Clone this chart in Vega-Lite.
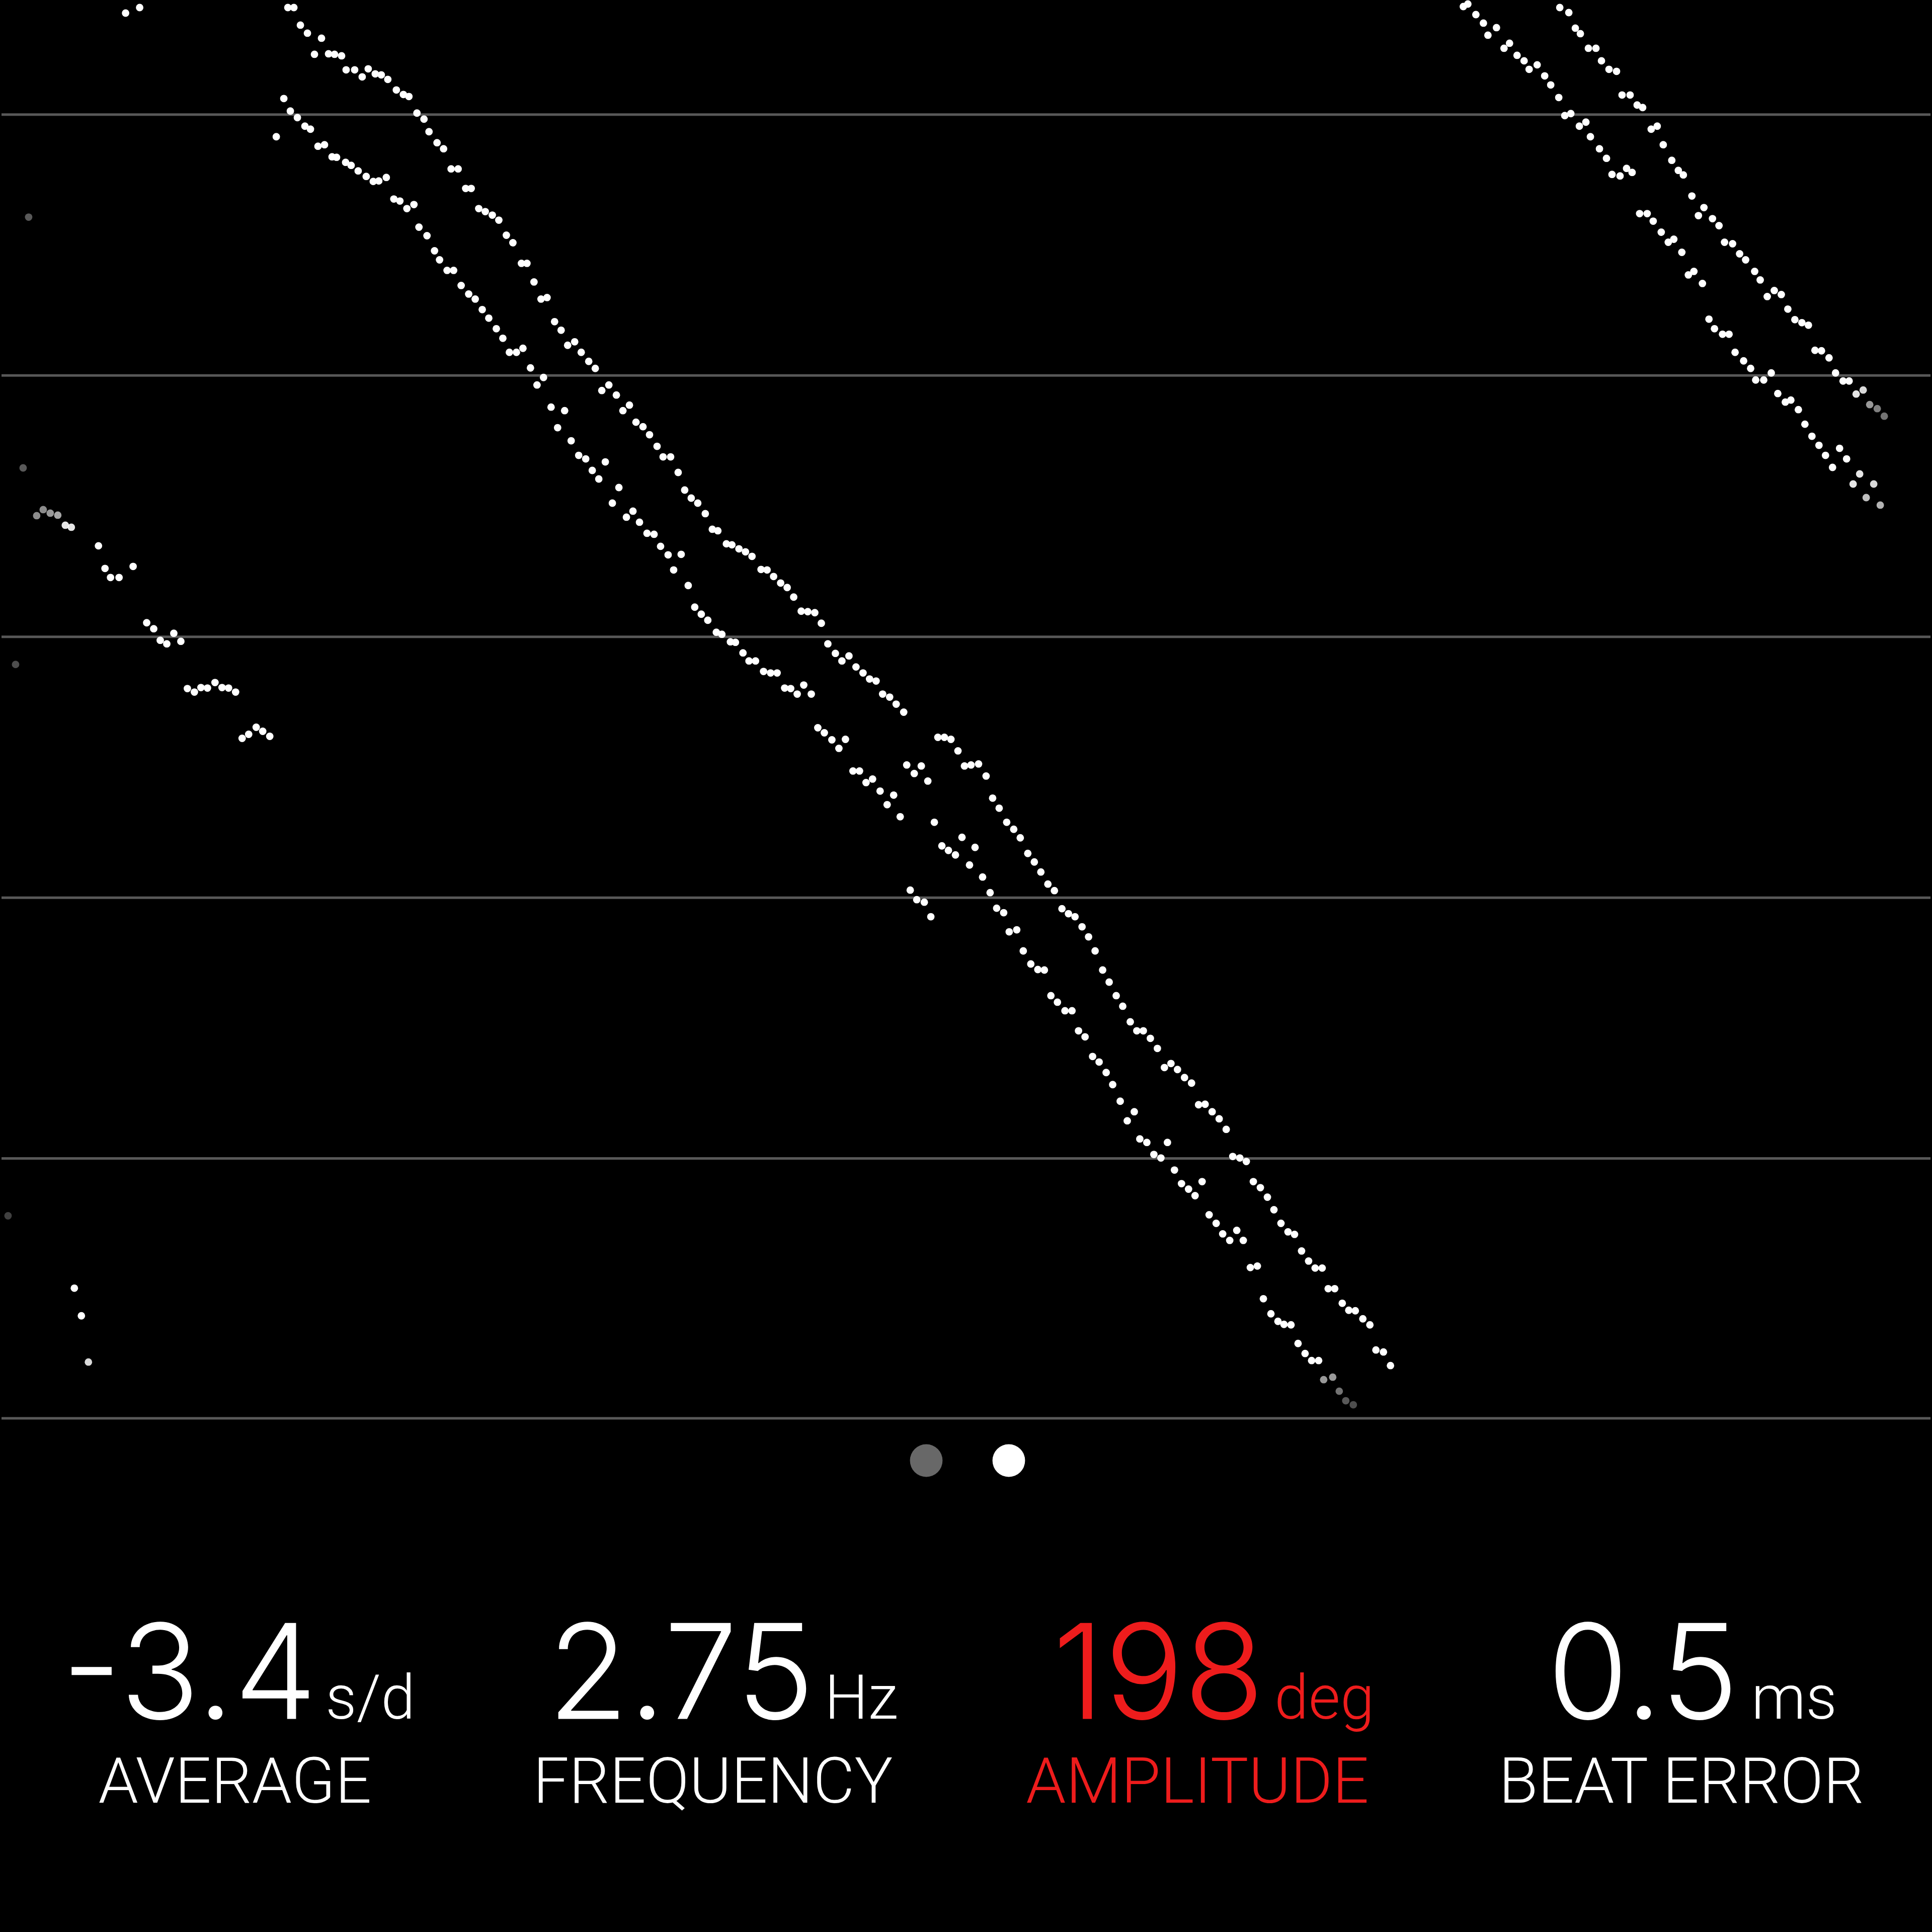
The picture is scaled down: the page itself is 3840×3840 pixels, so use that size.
{
  "$schema": "https://vega.github.io/schema/vega-lite/v6.json",
  "width": 3840,
  "height": 3840,
  "autosize": {"type": "fit", "contains": "padding"},
  "padding": 0,
  "background": "#000000",
  "config": {"view": {"stroke": null}},
  "resolve": {"scale": {"x": "independent"}},
  "datasets": {
    "grid": [{"y": 224}, {"y": 743}, {"y": 1263}, {"y": 1782}, {"y": 2301}, {"y": 2818}],
    "pages": [{"page": 1, "state": "inactive"}, {"page": 2, "state": "active"}],
    "metrics": [
      {"col": 1, "value": "-3.4", "unit": "s/d", "metric": "AVERAGE", "status": "normal"},
      {"col": 2, "value": "2.75", "unit": "Hz", "metric": "FREQUENCY", "status": "normal"},
      {"col": 3, "value": "198", "unit": "deg", "metric": "AMPLITUDE", "status": "alert"},
      {"col": 4, "value": "0.5", "unit": "ms", "metric": "BEAT ERROR", "status": "normal"}
    ],
    "beats": [
      {"x": 247, "y": 22, "signal": 1}, {"x": 275, "y": 11, "signal": 1},
      {"x": 54, "y": 428, "signal": 0.35}, {"x": 43, "y": 927, "signal": 0.35}, {"x": 28, "y": 1318, "signal": 0.3}, {"x": 13, "y": 2415, "signal": 0.25},
      {"x": 70, "y": 1022, "signal": 0.55}, {"x": 83, "y": 1010, "signal": 0.55}, {"x": 97, "y": 1017, "signal": 0.6}, {"x": 112, "y": 1021, "signal": 0.65},
      {"x": 127, "y": 1041, "signal": 0.9}, {"x": 139, "y": 1045, "signal": 0.9}, {"x": 193, "y": 1082, "signal": 1}, {"x": 206, "y": 1127, "signal": 1},
      {"x": 217, "y": 1145, "signal": 1}, {"x": 234, "y": 1145, "signal": 1}, {"x": 262, "y": 1123, "signal": 1}, {"x": 289, "y": 1235, "signal": 1},
      {"x": 303, "y": 1247, "signal": 1}, {"x": 316, "y": 1270, "signal": 1}, {"x": 329, "y": 1277, "signal": 1}, {"x": 343, "y": 1256, "signal": 1},
      {"x": 357, "y": 1272, "signal": 1}, {"x": 370, "y": 1366, "signal": 1}, {"x": 384, "y": 1373, "signal": 1}, {"x": 397, "y": 1364, "signal": 1},
      {"x": 410, "y": 1365, "signal": 1}, {"x": 425, "y": 1354, "signal": 1}, {"x": 439, "y": 1364, "signal": 1}, {"x": 452, "y": 1365, "signal": 1},
      {"x": 466, "y": 1373, "signal": 1}, {"x": 479, "y": 1465, "signal": 1}, {"x": 492, "y": 1457, "signal": 1}, {"x": 507, "y": 1443, "signal": 1},
      {"x": 520, "y": 1451, "signal": 1}, {"x": 534, "y": 1461, "signal": 1},
      {"x": 145, "y": 2559, "signal": 1}, {"x": 159, "y": 2614, "signal": 1}, {"x": 173, "y": 2706, "signal": 0.85},

      {"x": 562, "y": 192, "signal": 1}, {"x": 547, "y": 268, "signal": 1}, {"x": 575, "y": 217, "signal": 1}, {"x": 589, "y": 230, "signal": 1},
      {"x": 604, "y": 247, "signal": 1}, {"x": 615, "y": 253, "signal": 1}, {"x": 630, "y": 287, "signal": 1}, {"x": 643, "y": 284, "signal": 1},
      {"x": 658, "y": 308, "signal": 1}, {"x": 667, "y": 309, "signal": 1}, {"x": 685, "y": 319, "signal": 1}, {"x": 696, "y": 325, "signal": 1},
      {"x": 710, "y": 336, "signal": 1}, {"x": 726, "y": 347, "signal": 1}, {"x": 740, "y": 357, "signal": 1}, {"x": 751, "y": 356, "signal": 1},
      {"x": 766, "y": 349, "signal": 1}, {"x": 781, "y": 392, "signal": 1}, {"x": 793, "y": 396, "signal": 1}, {"x": 807, "y": 411, "signal": 1},
      {"x": 821, "y": 403, "signal": 1}, {"x": 831, "y": 448, "signal": 1}, {"x": 847, "y": 465, "signal": 1}, {"x": 862, "y": 495, "signal": 1},
      {"x": 872, "y": 513, "signal": 1}, {"x": 887, "y": 534, "signal": 1}, {"x": 900, "y": 534, "signal": 1}, {"x": 915, "y": 564, "signal": 1},
      {"x": 930, "y": 581, "signal": 1}, {"x": 943, "y": 591, "signal": 1}, {"x": 957, "y": 612, "signal": 1}, {"x": 970, "y": 629, "signal": 1},
      {"x": 985, "y": 650, "signal": 1}, {"x": 998, "y": 669, "signal": 1}, {"x": 1011, "y": 697, "signal": 1}, {"x": 1025, "y": 697, "signal": 1},
      {"x": 1038, "y": 689, "signal": 1}, {"x": 1053, "y": 728, "signal": 1}, {"x": 1066, "y": 762, "signal": 1}, {"x": 1079, "y": 747, "signal": 1},
      {"x": 1094, "y": 806, "signal": 1}, {"x": 1121, "y": 813, "signal": 1}, {"x": 1107, "y": 847, "signal": 1}, {"x": 1134, "y": 873, "signal": 1},
      {"x": 1149, "y": 902, "signal": 1}, {"x": 1163, "y": 909, "signal": 1}, {"x": 1202, "y": 915, "signal": 1}, {"x": 1176, "y": 932, "signal": 1},
      {"x": 1189, "y": 949, "signal": 1}, {"x": 1229, "y": 966, "signal": 1}, {"x": 1216, "y": 997, "signal": 1}, {"x": 1244, "y": 1025, "signal": 1},
      {"x": 1257, "y": 1013, "signal": 1}, {"x": 1270, "y": 1035, "signal": 1}, {"x": 1285, "y": 1057, "signal": 1}, {"x": 1299, "y": 1059, "signal": 1},
      {"x": 1312, "y": 1083, "signal": 1}, {"x": 1327, "y": 1100, "signal": 1}, {"x": 1353, "y": 1099, "signal": 1}, {"x": 1338, "y": 1130, "signal": 1},
      {"x": 1367, "y": 1161, "signal": 1}, {"x": 1380, "y": 1204, "signal": 1}, {"x": 1393, "y": 1218, "signal": 1}, {"x": 1406, "y": 1230, "signal": 1},
      {"x": 1423, "y": 1254, "signal": 1}, {"x": 1434, "y": 1258, "signal": 1}, {"x": 1451, "y": 1273, "signal": 1}, {"x": 1461, "y": 1274, "signal": 1},
      {"x": 1476, "y": 1295, "signal": 1}, {"x": 1488, "y": 1311, "signal": 1}, {"x": 1501, "y": 1311, "signal": 1}, {"x": 1517, "y": 1332, "signal": 1},
      {"x": 1531, "y": 1335, "signal": 1}, {"x": 1544, "y": 1335, "signal": 1}, {"x": 1559, "y": 1365, "signal": 1}, {"x": 1571, "y": 1366, "signal": 1},
      {"x": 1584, "y": 1377, "signal": 1}, {"x": 1597, "y": 1359, "signal": 1}, {"x": 1612, "y": 1377, "signal": 1}, {"x": 1625, "y": 1444, "signal": 1},
      {"x": 1638, "y": 1454, "signal": 1}, {"x": 1653, "y": 1468, "signal": 1}, {"x": 1667, "y": 1485, "signal": 1}, {"x": 1680, "y": 1467, "signal": 1},
      {"x": 1695, "y": 1530, "signal": 1}, {"x": 1708, "y": 1530, "signal": 1}, {"x": 1721, "y": 1553, "signal": 1}, {"x": 1734, "y": 1546, "signal": 1},
      {"x": 1749, "y": 1570, "signal": 1}, {"x": 1776, "y": 1578, "signal": 1}, {"x": 1763, "y": 1597, "signal": 1}, {"x": 1789, "y": 1621, "signal": 1},
      {"x": 1802, "y": 1518, "signal": 1}, {"x": 1817, "y": 1535, "signal": 1}, {"x": 1831, "y": 1520, "signal": 1}, {"x": 1844, "y": 1550, "signal": 1},
      {"x": 1857, "y": 1632, "signal": 1}, {"x": 1872, "y": 1679, "signal": 1}, {"x": 1885, "y": 1688, "signal": 1}, {"x": 1899, "y": 1697, "signal": 1},
      {"x": 1912, "y": 1662, "signal": 1}, {"x": 1938, "y": 1682, "signal": 1}, {"x": 1927, "y": 1717, "signal": 1}, {"x": 1953, "y": 1741, "signal": 1},
      {"x": 1968, "y": 1772, "signal": 1}, {"x": 1981, "y": 1803, "signal": 1}, {"x": 1995, "y": 1812, "signal": 1}, {"x": 2006, "y": 1850, "signal": 1},
      {"x": 2021, "y": 1846, "signal": 1}, {"x": 2034, "y": 1888, "signal": 1}, {"x": 2049, "y": 1914, "signal": 1}, {"x": 2063, "y": 1925, "signal": 1},
      {"x": 2076, "y": 1926, "signal": 1}, {"x": 2089, "y": 1977, "signal": 1}, {"x": 2102, "y": 1990, "signal": 1}, {"x": 2117, "y": 2007, "signal": 1},
      {"x": 2131, "y": 2007, "signal": 1}, {"x": 2144, "y": 2047, "signal": 1}, {"x": 2157, "y": 2059, "signal": 1}, {"x": 2172, "y": 2098, "signal": 1},
      {"x": 2185, "y": 2109, "signal": 1}, {"x": 2199, "y": 2130, "signal": 1}, {"x": 2212, "y": 2154, "signal": 1}, {"x": 2227, "y": 2187, "signal": 1},
      {"x": 1809, "y": 1767, "signal": 1}, {"x": 1822, "y": 1786, "signal": 1}, {"x": 1837, "y": 1791, "signal": 1}, {"x": 1850, "y": 1820, "signal": 1},
      {"x": 2241, "y": 2226, "signal": 1}, {"x": 2255, "y": 2208, "signal": 1}, {"x": 2266, "y": 2262, "signal": 1}, {"x": 2280, "y": 2269, "signal": 1},
      {"x": 2321, "y": 2269, "signal": 1}, {"x": 2294, "y": 2293, "signal": 1}, {"x": 2308, "y": 2300, "signal": 1}, {"x": 2335, "y": 2324, "signal": 1},
      {"x": 2349, "y": 2351, "signal": 1}, {"x": 2363, "y": 2362, "signal": 1}, {"x": 2376, "y": 2375, "signal": 1}, {"x": 2390, "y": 2347, "signal": 1},
      {"x": 2404, "y": 2413, "signal": 1}, {"x": 2418, "y": 2430, "signal": 1}, {"x": 2431, "y": 2451, "signal": 1}, {"x": 2445, "y": 2464, "signal": 1},
      {"x": 2459, "y": 2444, "signal": 1}, {"x": 2472, "y": 2464, "signal": 1}, {"x": 2486, "y": 2518, "signal": 1}, {"x": 2500, "y": 2515, "signal": 1},
      {"x": 2512, "y": 2580, "signal": 1}, {"x": 2527, "y": 2610, "signal": 1}, {"x": 2541, "y": 2625, "signal": 1}, {"x": 2553, "y": 2631, "signal": 1},
      {"x": 2567, "y": 2632, "signal": 1}, {"x": 2581, "y": 2669, "signal": 1}, {"x": 2595, "y": 2689, "signal": 1}, {"x": 2608, "y": 2703, "signal": 1},
      {"x": 2622, "y": 2703, "signal": 1}, {"x": 2632, "y": 2741, "signal": 0.6}, {"x": 2650, "y": 2736, "signal": 0.6}, {"x": 2663, "y": 2764, "signal": 0.45},
      {"x": 2676, "y": 2783, "signal": 0.35}, {"x": 2691, "y": 2791, "signal": 0.3},

      {"x": 570, "y": 11, "signal": 1}, {"x": 582, "y": 11, "signal": 1}, {"x": 595, "y": 46, "signal": 1}, {"x": 609, "y": 62, "signal": 1},
      {"x": 637, "y": 72, "signal": 1}, {"x": 623, "y": 104, "signal": 1}, {"x": 651, "y": 103, "signal": 1}, {"x": 663, "y": 104, "signal": 1},
      {"x": 677, "y": 107, "signal": 1}, {"x": 686, "y": 135, "signal": 1}, {"x": 703, "y": 135, "signal": 1}, {"x": 718, "y": 149, "signal": 1},
      {"x": 730, "y": 133, "signal": 1}, {"x": 744, "y": 143, "signal": 1}, {"x": 756, "y": 145, "signal": 1}, {"x": 769, "y": 154, "signal": 1},
      {"x": 786, "y": 175, "signal": 1}, {"x": 800, "y": 184, "signal": 1}, {"x": 811, "y": 188, "signal": 1}, {"x": 827, "y": 221, "signal": 1},
      {"x": 841, "y": 233, "signal": 1}, {"x": 851, "y": 258, "signal": 1}, {"x": 867, "y": 280, "signal": 1}, {"x": 880, "y": 292, "signal": 1},
      {"x": 895, "y": 332, "signal": 1}, {"x": 909, "y": 332, "signal": 1}, {"x": 924, "y": 371, "signal": 1}, {"x": 935, "y": 371, "signal": 1},
      {"x": 950, "y": 411, "signal": 1}, {"x": 963, "y": 417, "signal": 1}, {"x": 977, "y": 424, "signal": 1}, {"x": 990, "y": 434, "signal": 1},
      {"x": 1005, "y": 464, "signal": 1}, {"x": 1018, "y": 479, "signal": 1}, {"x": 1035, "y": 520, "signal": 1}, {"x": 1046, "y": 520, "signal": 1},
      {"x": 1060, "y": 557, "signal": 1}, {"x": 1074, "y": 591, "signal": 1}, {"x": 1086, "y": 588, "signal": 1}, {"x": 1101, "y": 636, "signal": 1},
      {"x": 1114, "y": 653, "signal": 1}, {"x": 1127, "y": 683, "signal": 1}, {"x": 1141, "y": 676, "signal": 1}, {"x": 1154, "y": 697, "signal": 1},
      {"x": 1169, "y": 715, "signal": 1}, {"x": 1182, "y": 729, "signal": 1}, {"x": 1195, "y": 773, "signal": 1}, {"x": 1209, "y": 762, "signal": 1},
      {"x": 1224, "y": 782, "signal": 1}, {"x": 1237, "y": 813, "signal": 1}, {"x": 1250, "y": 802, "signal": 1}, {"x": 1263, "y": 836, "signal": 1},
      {"x": 1277, "y": 845, "signal": 1}, {"x": 1290, "y": 861, "signal": 1}, {"x": 1305, "y": 884, "signal": 1}, {"x": 1317, "y": 905, "signal": 1},
      {"x": 1332, "y": 905, "signal": 1}, {"x": 1347, "y": 936, "signal": 1}, {"x": 1360, "y": 971, "signal": 1}, {"x": 1373, "y": 987, "signal": 1},
      {"x": 1386, "y": 997, "signal": 1}, {"x": 1401, "y": 1018, "signal": 1}, {"x": 1415, "y": 1049, "signal": 1}, {"x": 1426, "y": 1052, "signal": 1},
      {"x": 1443, "y": 1078, "signal": 1}, {"x": 1454, "y": 1080, "signal": 1}, {"x": 1468, "y": 1088, "signal": 1}, {"x": 1481, "y": 1094, "signal": 1},
      {"x": 1494, "y": 1103, "signal": 1}, {"x": 1512, "y": 1129, "signal": 1}, {"x": 1524, "y": 1130, "signal": 1}, {"x": 1537, "y": 1143, "signal": 1},
      {"x": 1551, "y": 1156, "signal": 1}, {"x": 1564, "y": 1165, "signal": 1}, {"x": 1577, "y": 1184, "signal": 1}, {"x": 1592, "y": 1212, "signal": 1},
      {"x": 1605, "y": 1213, "signal": 1}, {"x": 1619, "y": 1215, "signal": 1}, {"x": 1632, "y": 1236, "signal": 1}, {"x": 1645, "y": 1277, "signal": 1},
      {"x": 1660, "y": 1296, "signal": 1}, {"x": 1673, "y": 1311, "signal": 1}, {"x": 1687, "y": 1301, "signal": 1}, {"x": 1701, "y": 1323, "signal": 1},
      {"x": 1715, "y": 1335, "signal": 1}, {"x": 1728, "y": 1347, "signal": 1}, {"x": 1741, "y": 1351, "signal": 1}, {"x": 1754, "y": 1377, "signal": 1},
      {"x": 1768, "y": 1383, "signal": 1}, {"x": 1781, "y": 1397, "signal": 1}, {"x": 1796, "y": 1413, "signal": 1}, {"x": 1864, "y": 1463, "signal": 1},
      {"x": 1877, "y": 1463, "signal": 1}, {"x": 1890, "y": 1467, "signal": 1}, {"x": 1904, "y": 1490, "signal": 1}, {"x": 1917, "y": 1520, "signal": 1},
      {"x": 1930, "y": 1518, "signal": 1}, {"x": 1945, "y": 1516, "signal": 1}, {"x": 1960, "y": 1540, "signal": 1}, {"x": 1973, "y": 1584, "signal": 1},
      {"x": 1986, "y": 1604, "signal": 1}, {"x": 2001, "y": 1632, "signal": 1}, {"x": 2015, "y": 1646, "signal": 1}, {"x": 2028, "y": 1663, "signal": 1},
      {"x": 2043, "y": 1694, "signal": 1}, {"x": 2056, "y": 1711, "signal": 1}, {"x": 2069, "y": 1731, "signal": 1}, {"x": 2083, "y": 1755, "signal": 1},
      {"x": 2096, "y": 1768, "signal": 1}, {"x": 2111, "y": 1804, "signal": 1}, {"x": 2124, "y": 1814, "signal": 1}, {"x": 2137, "y": 1820, "signal": 1},
      {"x": 2151, "y": 1840, "signal": 1}, {"x": 2164, "y": 1860, "signal": 1}, {"x": 2177, "y": 1888, "signal": 1}, {"x": 2192, "y": 1926, "signal": 1},
      {"x": 2205, "y": 1950, "signal": 1}, {"x": 2219, "y": 1977, "signal": 1}, {"x": 2232, "y": 1998, "signal": 1}, {"x": 2247, "y": 2029, "signal": 1},
      {"x": 2260, "y": 2047, "signal": 1}, {"x": 2273, "y": 2047, "signal": 1}, {"x": 2287, "y": 2062, "signal": 1}, {"x": 2301, "y": 2082, "signal": 1},
      {"x": 2315, "y": 2120, "signal": 1}, {"x": 2328, "y": 2112, "signal": 1}, {"x": 2341, "y": 2124, "signal": 1}, {"x": 2355, "y": 2140, "signal": 1},
      {"x": 2369, "y": 2151, "signal": 1}, {"x": 2383, "y": 2194, "signal": 1}, {"x": 2396, "y": 2193, "signal": 1}, {"x": 2410, "y": 2208, "signal": 1},
      {"x": 2424, "y": 2222, "signal": 1}, {"x": 2438, "y": 2243, "signal": 1}, {"x": 2451, "y": 2297, "signal": 1}, {"x": 2465, "y": 2300, "signal": 1},
      {"x": 2478, "y": 2307, "signal": 1}, {"x": 2492, "y": 2347, "signal": 1}, {"x": 2506, "y": 2359, "signal": 1}, {"x": 2520, "y": 2378, "signal": 1},
      {"x": 2533, "y": 2403, "signal": 1}, {"x": 2547, "y": 2430, "signal": 1}, {"x": 2561, "y": 2447, "signal": 1}, {"x": 2574, "y": 2452, "signal": 1},
      {"x": 2588, "y": 2485, "signal": 1}, {"x": 2602, "y": 2505, "signal": 1}, {"x": 2615, "y": 2519, "signal": 1}, {"x": 2629, "y": 2519, "signal": 1},
      {"x": 2641, "y": 2560, "signal": 1}, {"x": 2654, "y": 2560, "signal": 1}, {"x": 2669, "y": 2589, "signal": 1}, {"x": 2682, "y": 2603, "signal": 1},
      {"x": 2695, "y": 2604, "signal": 1}, {"x": 2710, "y": 2620, "signal": 1}, {"x": 2724, "y": 2632, "signal": 1}, {"x": 2736, "y": 2682, "signal": 1},
      {"x": 2751, "y": 2686, "signal": 1}, {"x": 2765, "y": 2713, "signal": 1},

      {"x": 2910, "y": 9, "signal": 1}, {"x": 2919, "y": 4, "signal": 1}, {"x": 2935, "y": 25, "signal": 1}, {"x": 2950, "y": 42, "signal": 1},
      {"x": 2976, "y": 51, "signal": 1}, {"x": 2959, "y": 66, "signal": 1}, {"x": 2991, "y": 92, "signal": 1}, {"x": 3002, "y": 82, "signal": 1},
      {"x": 3017, "y": 106, "signal": 1}, {"x": 3031, "y": 117, "signal": 1}, {"x": 3057, "y": 125, "signal": 1}, {"x": 3041, "y": 134, "signal": 1},
      {"x": 3072, "y": 147, "signal": 1}, {"x": 3084, "y": 165, "signal": 1}, {"x": 3100, "y": 190, "signal": 1}, {"x": 3112, "y": 226, "signal": 1},
      {"x": 3124, "y": 222, "signal": 1}, {"x": 3141, "y": 247, "signal": 1}, {"x": 3154, "y": 239, "signal": 1}, {"x": 3163, "y": 268, "signal": 1},
      {"x": 3181, "y": 292, "signal": 1}, {"x": 3195, "y": 311, "signal": 1}, {"x": 3206, "y": 343, "signal": 1}, {"x": 3222, "y": 346, "signal": 1},
      {"x": 3235, "y": 331, "signal": 1}, {"x": 3246, "y": 339, "signal": 1}, {"x": 3261, "y": 421, "signal": 1}, {"x": 3276, "y": 421, "signal": 1},
      {"x": 3288, "y": 436, "signal": 1}, {"x": 3304, "y": 458, "signal": 1}, {"x": 3318, "y": 478, "signal": 1}, {"x": 3329, "y": 472, "signal": 1},
      {"x": 3345, "y": 498, "signal": 1}, {"x": 3358, "y": 543, "signal": 1}, {"x": 3369, "y": 536, "signal": 1}, {"x": 3386, "y": 560, "signal": 1},
      {"x": 3399, "y": 631, "signal": 1}, {"x": 3410, "y": 650, "signal": 1}, {"x": 3426, "y": 661, "signal": 1}, {"x": 3439, "y": 661, "signal": 1},
      {"x": 3451, "y": 697, "signal": 1}, {"x": 3468, "y": 714, "signal": 1}, {"x": 3482, "y": 729, "signal": 1}, {"x": 3492, "y": 752, "signal": 1},
      {"x": 3508, "y": 752, "signal": 1}, {"x": 3523, "y": 738, "signal": 1}, {"x": 3536, "y": 779, "signal": 1}, {"x": 3551, "y": 796, "signal": 1},
      {"x": 3562, "y": 792, "signal": 1}, {"x": 3577, "y": 811, "signal": 1}, {"x": 3590, "y": 840, "signal": 1}, {"x": 3604, "y": 864, "signal": 1},
      {"x": 3618, "y": 882, "signal": 1}, {"x": 3631, "y": 902, "signal": 1}, {"x": 3645, "y": 926, "signal": 1}, {"x": 3659, "y": 888, "signal": 1},
      {"x": 3673, "y": 909, "signal": 1}, {"x": 3686, "y": 959, "signal": 0.9}, {"x": 3699, "y": 939, "signal": 0.9}, {"x": 3727, "y": 959, "signal": 0.85},
      {"x": 3712, "y": 986, "signal": 0.75}, {"x": 3740, "y": 1001, "signal": 0.7},

      {"x": 3102, "y": 11, "signal": 1}, {"x": 3120, "y": 21, "signal": 1}, {"x": 3133, "y": 52, "signal": 1}, {"x": 3143, "y": 63, "signal": 1},
      {"x": 3159, "y": 92, "signal": 1}, {"x": 3174, "y": 92, "signal": 1}, {"x": 3185, "y": 117, "signal": 1}, {"x": 3200, "y": 134, "signal": 1},
      {"x": 3215, "y": 138, "signal": 1}, {"x": 3226, "y": 185, "signal": 1}, {"x": 3242, "y": 185, "signal": 1}, {"x": 3256, "y": 205, "signal": 1},
      {"x": 3267, "y": 210, "signal": 1}, {"x": 3284, "y": 253, "signal": 1}, {"x": 3296, "y": 247, "signal": 1}, {"x": 3308, "y": 284, "signal": 1},
      {"x": 3325, "y": 315, "signal": 1}, {"x": 3338, "y": 335, "signal": 1}, {"x": 3348, "y": 344, "signal": 1}, {"x": 3365, "y": 386, "signal": 1},
      {"x": 3378, "y": 425, "signal": 1}, {"x": 3389, "y": 409, "signal": 1}, {"x": 3406, "y": 431, "signal": 1}, {"x": 3419, "y": 445, "signal": 1},
      {"x": 3430, "y": 478, "signal": 1}, {"x": 3446, "y": 481, "signal": 1}, {"x": 3460, "y": 501, "signal": 1}, {"x": 3472, "y": 513, "signal": 1},
      {"x": 3490, "y": 536, "signal": 1}, {"x": 3501, "y": 553, "signal": 1}, {"x": 3515, "y": 586, "signal": 1}, {"x": 3529, "y": 574, "signal": 1},
      {"x": 3543, "y": 582, "signal": 1}, {"x": 3556, "y": 611, "signal": 1}, {"x": 3570, "y": 632, "signal": 1}, {"x": 3584, "y": 638, "signal": 1},
      {"x": 3597, "y": 643, "signal": 1}, {"x": 3610, "y": 693, "signal": 1}, {"x": 3623, "y": 694, "signal": 1}, {"x": 3638, "y": 708, "signal": 1},
      {"x": 3651, "y": 738, "signal": 1}, {"x": 3666, "y": 754, "signal": 1}, {"x": 3678, "y": 754, "signal": 1}, {"x": 3692, "y": 780, "signal": 0.9},
      {"x": 3706, "y": 772, "signal": 0.85}, {"x": 3719, "y": 801, "signal": 0.6}, {"x": 3734, "y": 809, "signal": 0.5}, {"x": 3748, "y": 824, "signal": 0.45}
    ]
  },
  "layer": [
    {
      "data": {"name": "grid"},
      "mark": {"type": "rule", "color": "#585858", "strokeWidth": 5},
      "encoding": {
        "y": {"field": "y", "type": "quantitative", "axis": null, "scale": {"domain": [0, 3840], "reverse": true, "nice": false, "zero": false}}
      }
    },
    {
      "data": {"name": "beats"},
      "mark": {"type": "circle", "color": "#ffffff", "size": 220, "strokeWidth": 0},
      "encoding": {
        "x": {"field": "x", "type": "quantitative", "axis": null, "scale": {"domain": [0, 3840], "nice": false, "zero": false}},
        "y": {"field": "y", "type": "quantitative", "axis": null, "scale": {"domain": [0, 3840], "reverse": true, "nice": false, "zero": false}},
        "opacity": {"field": "signal", "type": "quantitative", "legend": null, "scale": {"domain": [0, 1], "range": [0, 1]}}
      }
    },
    {
      "data": {"name": "pages"},
      "mark": {"type": "circle", "size": 4200, "opacity": 1, "strokeWidth": 0},
      "encoding": {
        "x": {"field": "page", "type": "quantitative", "axis": null, "scale": {"domain": [1, 2], "range": [1838, 2002], "nice": false, "zero": false}},
        "y": {"datum": 2902, "type": "quantitative", "axis": null},
        "color": {"condition": {"test": "datum.state === 'active'", "value": "#ffffff"}, "value": "#686868"}
      }
    },
    {
      "data": {"name": "metrics"},
      "mark": {"type": "text", "align": "right", "baseline": "alphabetic", "font": "Inter", "fontWeight": 300, "fontSize": 262},
      "encoding": {
        "x": {"field": "col", "type": "quantitative", "axis": null, "scale": {"domain": [1, 2, 3, 4], "range": [627, 1616, 2510, 3453], "nice": false, "zero": false}},
        "y": {"datum": 3416, "type": "quantitative", "axis": null},
        "text": {"field": "value"},
        "color": {"condition": {"test": "datum.status === 'alert'", "value": "#ee1c1c"}, "value": "#ffffff"}
      }
    },
    {
      "data": {"name": "metrics"},
      "mark": {"type": "text", "align": "left", "baseline": "alphabetic", "font": "Roboto", "fontWeight": 300, "fontSize": 122},
      "encoding": {
        "x": {"field": "col", "type": "quantitative", "axis": null, "scale": {"domain": [1, 2, 3, 4], "range": [644, 1636, 2530, 3478], "nice": false, "zero": false}},
        "y": {"datum": 3416, "type": "quantitative", "axis": null},
        "text": {"field": "unit"},
        "color": {"condition": {"test": "datum.status === 'alert'", "value": "#ee1c1c"}, "value": "#ffffff"}
      }
    },
    {
      "data": {"name": "metrics"},
      "mark": {"type": "text", "align": "center", "baseline": "alphabetic", "font": "Roboto", "fontWeight": 300, "fontSize": 127},
      "encoding": {
        "x": {"field": "col", "type": "quantitative", "axis": null, "scale": {"domain": [1, 2, 3, 4], "range": [464, 1414, 2377, 3339], "nice": false, "zero": false}},
        "y": {"datum": 3583, "type": "quantitative", "axis": null},
        "text": {"field": "metric"},
        "color": {"condition": {"test": "datum.status === 'alert'", "value": "#ee1c1c"}, "value": "#ffffff"}
      }
    }
  ]
}
